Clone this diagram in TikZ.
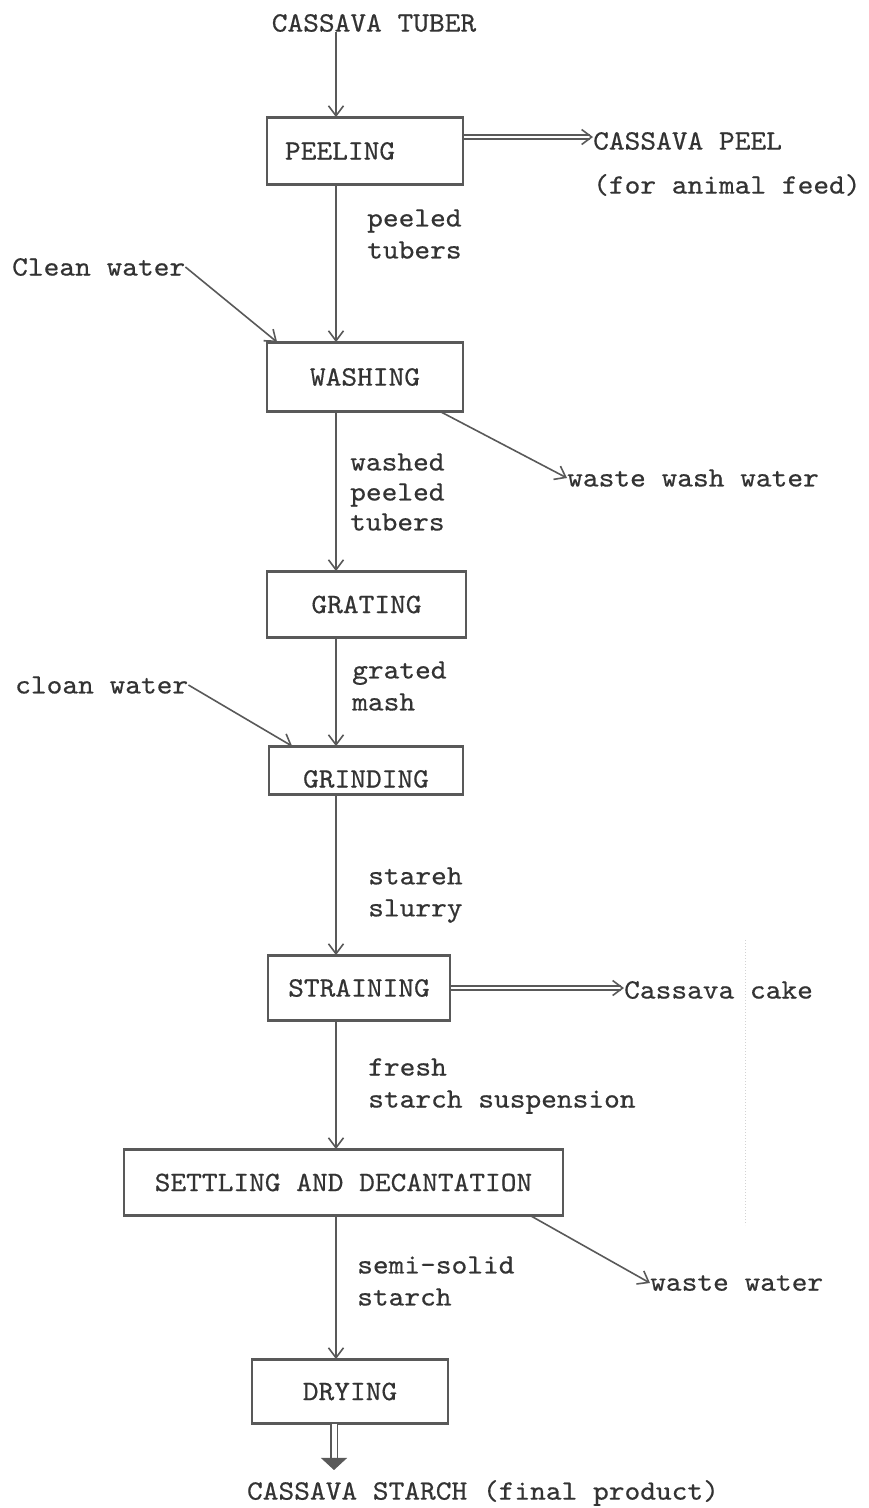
\documentclass[tikz,border=0pt]{standalone}
\usepackage{fontspec}
\setmonofont{lmmono10-regular.otf}[FakeStretch=1.07,FakeBold=0.5]
\usetikzlibrary{arrows.meta,calc}
\definecolor{ink}{HTML}{333333}
\definecolor{rule}{HTML}{595959}
\tikzset{
  txt/.style={font=\ttfamily\fontsize{28}{32}\selectfont, text=ink, inner sep=0pt},
  stage/.style={txt, draw=rule, line width=1.8pt},
  edge/.style={draw=rule, line width=3pt},
  note/.style={txt, align=left, anchor=west},
  flow/.style={draw=rule, line width=1.6pt, -{Straight Barb[length=10pt,width=15pt]}},
  twin/.style={draw=rule, line width=1.3pt, double=white, double distance=2.6pt},
  bigtip/.style={draw=rule, fill=rule, line width=0.8pt, -{Triangle[length=12pt,width=26pt]}},
}
\begin{document}
\begin{tikzpicture}[x=1pt,y=-1pt]
\useasboundingbox (0,0) rectangle (868,1508);

% process stages
\node[txt] (tuber) at (374,23) {CASSAVA TUBER};
\node[stage, minimum width=196pt, minimum height=66pt, text width=160pt,
      align=left, inner xsep=18pt] (peel) at (365,151) {PEELING};
\node[stage, minimum width=196pt, minimum height=68pt] (wash) at (365,377) {WASHING};
\node[stage, minimum width=199pt, minimum height=65pt] (grate) at (366.5,604.5) {GRATING};
\node[stage, minimum width=194pt, minimum height=47pt] (grind) at (366,770.5) {\raisebox{-17pt}[0pt][0pt]{GRINDING}};
\node[stage, minimum width=182pt, minimum height=64pt] (strain) at (359,988) {STRAINING};
\node[stage, minimum width=439pt, minimum height=65pt] (settle) at (343.5,1182.5) {SETTLING AND DECANTATION};
\node[stage, minimum width=196pt, minimum height=63pt] (dry) at (350,1391.5) {DRYING};
\node[txt] (final) at (483,1493) {CASSAVA STARCH (final product)};

% heavier typed top and bottom rules of the boxes
\foreach \n in {peel,wash,grate,grind,strain,settle,dry}{
  \draw[edge] (\n.north west) -- (\n.north east);
  \draw[edge] (\n.south west) -- (\n.south east);
}

% intermediate products along the main line
\node[note] (l1) at (367,234) {peeled\\tubers};
\node[note, font=\ttfamily\fontsize{28}{30}\selectfont] (l2) at (350,492) {washed\\peeled\\tubers};
\node[note] (l3) at (352,686) {grated\\mash};
\node[note] (l4) at (368,895) {stareh\\slurry};
\node[note] (l5) at (368,1086) {fresh\\starch suspension};
\node[note] (l6) at (357,1281) {semi-solid\\starch};

% inputs and by-products
\node[note] (cw1) at (12,267) {Clean water};
\node[note] (cw2) at (15,685) {cloan water};
\node[note] (peelout) at (593,141) {CASSAVA PEEL};
\node[note] (feed) at (593,185) {(for animal feed)};
\node[note] (wwash) at (567,478) {waste wash water};
\node[note] (cake) at (624,990) {Cassava cake};
\node[note] (wwater) at (650,1283) {waste water};

% main vertical line
\coordinate (spine) at (336,0);
\draw[flow] (tuber.south -| spine) -- (peel.north -| spine);
\draw[flow] (peel.south -| spine) -- (wash.north -| spine);
\draw[flow] (wash.south -| spine) -- (grate.north -| spine);
\draw[flow] (grate.south -| spine) -- (grind.north -| spine);
\draw[flow] (grind.south -| spine) -- (strain.north -| spine);
\draw[flow] (strain.south -| spine) -- (settle.north -| spine);
\draw[flow] (settle.south -| spine) -- (dry.north -| spine);

% water inputs
\draw[flow] (cw1.east) -- ([xshift=11pt]wash.north west);
\draw[flow] (cw2.east) -- ([xshift=24pt]grind.north west);

% waste outputs
\draw[flow] ([xshift=-23pt]wash.south east) -- (wwash.west);
\draw[flow] ([xshift=-33pt]settle.south east) -- (wwater.west);

% solid by-products (double lines)
\coordinate (peelrow) at (0,137);
\draw[twin] (peel.east |- peelrow) -- ([xshift=-3pt]peelout.west |- peelrow);
\draw[flow] ([xshift=-1pt]peelout.west |- peelrow) -- (peelout.west |- peelrow);
\draw[twin] (strain.east) -- ([xshift=-3pt]strain.east -| cake.west);
\draw[flow] ([xshift=-1pt]strain.east -| cake.west) -- (strain.east -| cake.west);

% final product
\coordinate (drop) at (334,0);
\draw[twin, line width=1.4pt, double distance=5pt] (dry.south -| drop) -- ([yshift=20pt]final.north -| drop);
\draw[bigtip] ([yshift=22pt]final.north -| drop) -- ([yshift=10pt]final.north -| drop);

% faint stray dotted line on the sheet
\draw[gray!35, dotted, line width=1pt] (745,940) -- (745,1225);
\end{tikzpicture}
\end{document}
